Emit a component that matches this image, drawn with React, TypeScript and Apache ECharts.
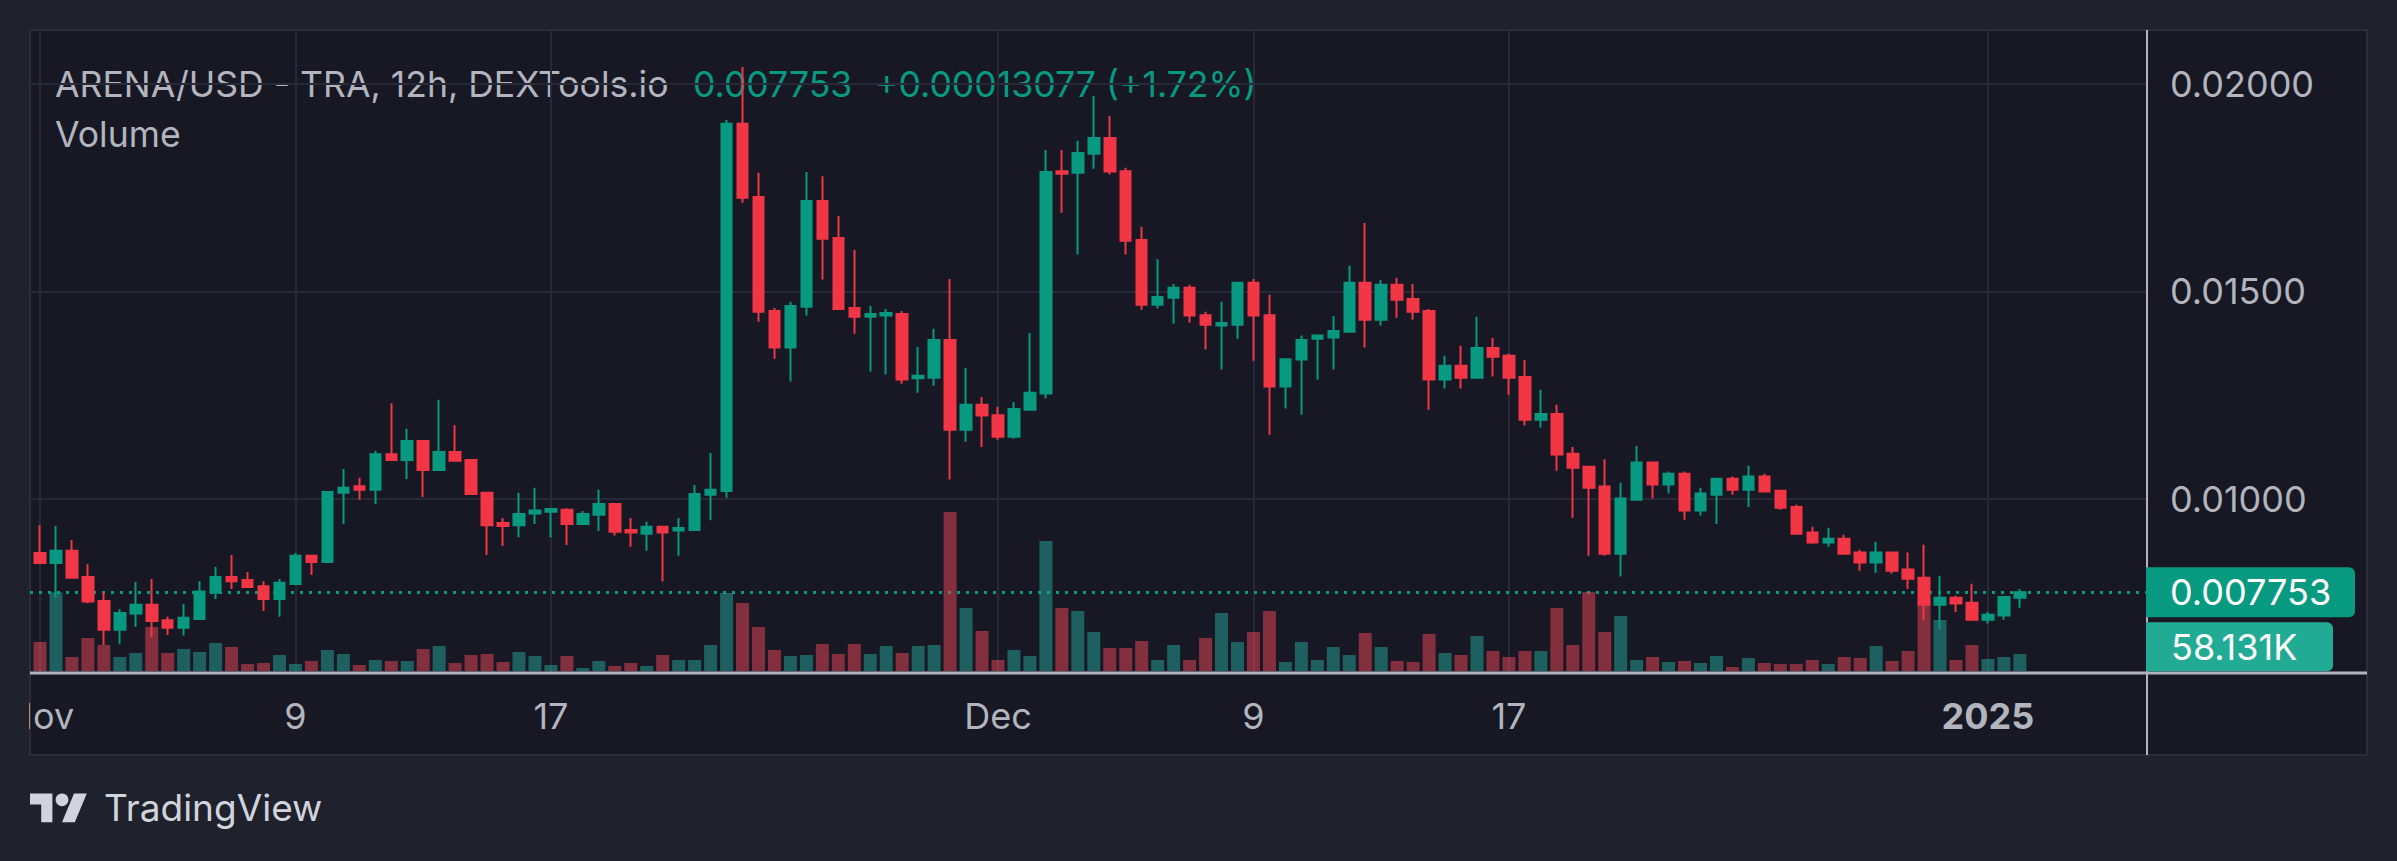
import React, { useEffect, useRef } from "react";
import * as echarts from "echarts";

// ---------- DATA (12h candles, Nov 1 2024 00:00 .. Jan 2 2025 00:00) ----------
const OPEN = [
  0.0087, 0.00846, 0.00875, 0.00812, 0.00754, 0.00685, 0.00724, 0.00745, 0.00708, 0.0069,
  0.00711, 0.00774, 0.00812, 0.00805, 0.0079, 0.00759, 0.00795, 0.00863, 0.00848, 0.01015,
  0.01031, 0.01022, 0.01108, 0.01094, 0.0114, 0.0107, 0.01113, 0.01094, 0.01015, 0.00942,
  0.00937, 0.00965, 0.00969, 0.00974, 0.0094, 0.00962, 0.00988, 0.00925, 0.00916, 0.00933,
  0.00924, 0.00925, 0.0101, 0.01019, 0.01904, 0.01728, 0.01453, 0.01365, 0.01463, 0.01718,
  0.01629, 0.0146, 0.01439, 0.01442, 0.01446, 0.01291, 0.01292, 0.01383, 0.01167, 0.01227,
  0.01202, 0.0115, 0.01215, 0.01254, 0.0179, 0.01786, 0.01832, 0.0187, 0.0179, 0.01624,
  0.01468, 0.01485, 0.01509, 0.01443, 0.01418, 0.0142, 0.01521, 0.01443, 0.01271, 0.01336,
  0.01386, 0.01389, 0.01403, 0.01521, 0.01432, 0.01516, 0.01482, 0.01453, 0.01288, 0.01321,
  0.01292, 0.01364, 0.01345, 0.01294, 0.01191, 0.01205, 0.01109, 0.01078, 0.0103, 0.00868,
  0.00998, 0.01088, 0.01035, 0.01061, 0.00972, 0.0101, 0.01049, 0.01022, 0.01054, 0.0102,
  0.00981, 0.00919, 0.00895, 0.00904, 0.00871, 0.00847, 0.00871, 0.0083, 0.0081, 0.00745,
  0.00762, 0.0075, 0.00709, 0.00719, 0.0076222,
];
const HIGH = [
  0.00937, 0.00935, 0.00901, 0.00843, 0.00775, 0.00735, 0.008, 0.00807, 0.00716, 0.00747,
  0.00802, 0.00836, 0.00865, 0.00824, 0.00802, 0.00807, 0.0087, 0.00863, 0.01017, 0.01072,
  0.01051, 0.01116, 0.01231, 0.01169, 0.0114, 0.01239, 0.01178, 0.01094, 0.01015, 0.00954,
  0.01015, 0.01027, 0.00978, 0.00978, 0.00971, 0.01022, 0.00988, 0.00954, 0.00945, 0.00935,
  0.00954, 0.01034, 0.01111, 0.01913, 0.02041, 0.01786, 0.0146, 0.01475, 0.01788, 0.01778,
  0.01682, 0.016, 0.01465, 0.01458, 0.01453, 0.01366, 0.0141, 0.0153, 0.01316, 0.01246,
  0.01222, 0.01234, 0.014, 0.01841, 0.01841, 0.01863, 0.01971, 0.01923, 0.01798, 0.01656,
  0.01578, 0.01518, 0.01516, 0.01451, 0.01475, 0.01523, 0.0153, 0.01492, 0.01337, 0.01394,
  0.01395, 0.01441, 0.01562, 0.01665, 0.01528, 0.01533, 0.01518, 0.01458, 0.01345, 0.01369,
  0.01439, 0.01388, 0.0135, 0.01335, 0.01263, 0.01227, 0.01125, 0.0108, 0.01096, 0.01039,
  0.01128, 0.01088, 0.01066, 0.01066, 0.01027, 0.01051, 0.01054, 0.0108, 0.01061, 0.0102,
  0.00986, 0.00933, 0.00931, 0.00914, 0.00878, 0.00897, 0.00873, 0.00871, 0.0089, 0.00815,
  0.00767, 0.00796, 0.00728, 0.00764, 0.00783,
];
const LOW = [
  0.00846, 0.00762, 0.0081, 0.00749, 0.00648, 0.00651, 0.00692, 0.00667, 0.00672, 0.00671,
  0.00709, 0.00759, 0.00783, 0.00788, 0.0073, 0.00716, 0.00795, 0.00817, 0.00848, 0.0094,
  0.00998, 0.00988, 0.01092, 0.01048, 0.01005, 0.01068, 0.01092, 0.0101, 0.00865, 0.00887,
  0.00908, 0.0094, 0.00908, 0.00889, 0.0094, 0.00923, 0.00912, 0.00885, 0.00875, 0.00801,
  0.00863, 0.00924, 0.00949, 0.01003, 0.01714, 0.01427, 0.01338, 0.01283, 0.01442, 0.01529,
  0.01456, 0.01398, 0.01307, 0.013, 0.01278, 0.01256, 0.01273, 0.01047, 0.01138, 0.01125,
  0.01143, 0.01145, 0.01215, 0.01242, 0.0169, 0.01589, 0.01796, 0.01782, 0.01589, 0.01456,
  0.01459, 0.01423, 0.01425, 0.0136, 0.01312, 0.01386, 0.01333, 0.01155, 0.01218, 0.01203,
  0.01288, 0.01312, 0.01403, 0.01365, 0.01418, 0.01437, 0.01432, 0.01215, 0.01266, 0.01266,
  0.01292, 0.01295, 0.01251, 0.01177, 0.01172, 0.01068, 0.00955, 0.00863, 0.00863, 0.00813,
  0.00998, 0.01001, 0.01013, 0.0095, 0.0096, 0.0094, 0.0101, 0.00981, 0.01018, 0.00974,
  0.00914, 0.00892, 0.00885, 0.00866, 0.00827, 0.00822, 0.0082, 0.00784, 0.00707, 0.00687,
  0.00728, 0.00707, 0.007, 0.00709, 0.00738,
];
const CLOSE = [
  0.00846, 0.00875, 0.0081, 0.00753, 0.00685, 0.00725, 0.00745, 0.00706, 0.0069, 0.00714,
  0.00777, 0.00812, 0.00802, 0.00788, 0.00759, 0.00798, 0.00863, 0.00848, 0.01017, 0.01027,
  0.01022, 0.01108, 0.01094, 0.0114, 0.0107, 0.01113, 0.01092, 0.01012, 0.00937, 0.00935,
  0.00964, 0.00972, 0.00976, 0.0094, 0.00964, 0.00988, 0.00921, 0.00919, 0.00933, 0.00919,
  0.0093, 0.01012, 0.01022, 0.01904, 0.01726, 0.01451, 0.01365, 0.01465, 0.01718, 0.01627,
  0.01458, 0.01439, 0.01446, 0.01448, 0.01288, 0.01297, 0.01383, 0.01167, 0.01227, 0.01201,
  0.0115, 0.01217, 0.01256, 0.01788, 0.01784, 0.01834, 0.0187, 0.01789, 0.01622, 0.01468,
  0.01487, 0.01509, 0.01442, 0.0142, 0.01424, 0.01521, 0.01442, 0.01271, 0.01337, 0.01383,
  0.01394, 0.01405, 0.01521, 0.01432, 0.01516, 0.0148, 0.01451, 0.01288, 0.01321, 0.01292,
  0.01364, 0.01343, 0.01292, 0.01191, 0.01205, 0.01107, 0.01075, 0.01027, 0.00868, 0.01001,
  0.01088, 0.01035, 0.01061, 0.00972, 0.01013, 0.01049, 0.01022, 0.01054, 0.01018, 0.00979,
  0.00916, 0.00895, 0.00904, 0.00868, 0.00847, 0.00871, 0.00827, 0.00808, 0.00745, 0.00762,
  0.00748, 0.00709, 0.00721, 0.00764, 0.007753,
];
const VOLUME = [
  99200, 269000, 47900, 112900, 88900, 47900, 61600, 150500, 61600, 75200,
  65000, 95800, 82100, 23900, 27400, 54700, 23900, 34200, 71800, 58100,
  20500, 37600, 34200, 34200, 75200, 85500, 27400, 54700, 58100, 30800,
  65000, 51300, 20500, 51300, 10300, 34200, 17100, 27400, 17100, 54700,
  37600, 37600, 88900, 266800, 232600, 150500, 71800, 51300, 54700, 92300,
  58100, 92300, 58100, 85500, 61600, 85500, 88900, 543800, 215500, 136800,
  37600, 71800, 51300, 444600, 215500, 205200, 133400, 78700, 78700, 102600,
  37600, 88900, 37600, 112900, 198400, 99200, 133400, 205200, 30800, 99200,
  37600, 82100, 54700, 130000, 82100, 34200, 30800, 126500, 61600, 54700,
  119700, 68400, 47900, 68400, 68400, 215500, 88900, 270200, 133400, 188100,
  37600, 47900, 30800, 34200, 27400, 51300, 13700, 44500, 27400, 23900,
  23900, 37600, 23900, 47900, 44500, 85500, 34200, 68400, 239400, 174400,
  37600, 88900, 41000, 47900, 58131,
];

const PRICE_TICKS = [0.01, 0.015, 0.02];
const TIME_TICKS = [0, 16, 32, 60, 76, 92, 122];
const TIME_LABELS = ["Nov", "9", "17", "Dec", "9", "17", "2025"];
const TIME_BOLD = [false, false, false, false, false, false, true];

const TITLE = "ARENA/USD - TRA, 12h, DEXTools.io";
const LAST_PRICE = 0.007753;
const CHANGE = 0.00013077;
const CHANGE_PCT = 1.72;
const LAST_VOLUME = 58131;

// ---------- STYLE / LAYOUT ----------
const W = 2397;
const H = 861;
const OUTER = "#1f222c";
const INNER = "#171824";
const BORDER = "#2b2e3a";
const GRID = "#272a36";
const SEP = "#b2b5be";
const TXT = "#b2b5be";
const UP = "#089981";
const DOWN = "#f23645";
const VOL_UP = "rgba(38,166,154,0.5)";
const VOL_DOWN = "rgba(242,70,85,0.5)";
const FONT = 'Inter, "Noto Sans", Roboto, sans-serif';

const PLOT_LEFT = 30;
const PLOT_RIGHT = 2146;
const PRICE_TOP = 30;
const PRICE_BOTTOM = 673;
const X_MIN = -0.6263;
const X_MAX = 131.9;
const Y_MIN = 0.0058072;
const Y_MAX = 0.0213012;
const VOL_TOP = 471;
const VOL_BOTTOM = 671;
const VOL_MAX = 684000;

const TV_LOGO = "M14 22H7V11H0V4h14v18zM28 22h-8l7.5-18h8L28 22z";

export default function App() {
  const ref = useRef<HTMLDivElement>(null);

  useEffect(() => {
    if (!ref.current) return;
    try {
      echarts.graphic.registerShape("tvlogo", echarts.graphic.extendPath(TV_LOGO, {}) as any);
    } catch (e) {
      /* already registered */
    }
    const chart = echarts.init(ref.current, null, { renderer: "svg", width: W, height: H });

    const candleData = OPEN.map((o, i) => [i, o, CLOSE[i], LOW[i], HIGH[i]]);
    const volData = VOLUME.map((v, i) => ({
      value: [i, v],
      itemStyle: { color: CLOSE[i] >= OPEN[i] ? VOL_UP : VOL_DOWN },
    }));

    const plotW = PLOT_RIGHT - PLOT_LEFT;
    const py = PRICE_TOP + ((Y_MAX - LAST_PRICE) / (Y_MAX - Y_MIN)) * (PRICE_BOTTOM - PRICE_TOP);

    const option: any = {
      animation: false,
      backgroundColor: OUTER,
      grid: [
        { left: PLOT_LEFT, top: PRICE_TOP, width: plotW, height: PRICE_BOTTOM - PRICE_TOP },
        { left: PLOT_LEFT, top: VOL_TOP, width: plotW, height: VOL_BOTTOM - VOL_TOP },
      ],
      xAxis: [
        { type: "value", gridIndex: 0, min: X_MIN, max: X_MAX, show: false },
        {
          type: "value",
          gridIndex: 1,
          min: X_MIN,
          max: X_MAX,
          axisLine: { show: false },
          axisTick: { show: false },
          splitLine: { show: false },
          axisLabel: {
            customValues: TIME_TICKS,
            margin: 45,
            verticalAlign: "middle",
            color: TXT,
            fontSize: 36,
            fontFamily: FONT,
            formatter: (v: number) => {
              const k = TIME_TICKS.indexOf(Math.round(v));
              if (k < 0) return "";
              return TIME_BOLD[k] ? `{b|${TIME_LABELS[k]}}` : TIME_LABELS[k];
            },
            rich: {
              b: { fontWeight: "bold", fontSize: 36, fontFamily: FONT, color: TXT },
            },
          },
        },
      ],
      yAxis: [
        {
          type: "value",
          gridIndex: 0,
          position: "right",
          min: Y_MIN,
          max: Y_MAX,
          axisLine: { show: false },
          axisTick: { show: false },
          splitLine: { show: false },
          axisLabel: {
            customValues: PRICE_TICKS,
            margin: 24,
            color: TXT,
            fontSize: 36,
            fontFamily: FONT,
            formatter: (v: number) => v.toFixed(5),
          },
        },
        { type: "value", gridIndex: 1, min: 0, max: VOL_MAX, show: false },
      ],
      series: [
        {
          type: "bar",
          xAxisIndex: 1,
          yAxisIndex: 1,
          data: volData,
          barWidth: 13,
          silent: true,
          z: 2,
        },
        {
          type: "candlestick",
          xAxisIndex: 0,
          yAxisIndex: 0,
          data: candleData,
          encode: { x: 0, y: [1, 2, 3, 4] },
          barWidth: 11,
          silent: true,
          z: 3,
          itemStyle: {
            color: UP,
            color0: DOWN,
            borderColor: UP,
            borderColor0: DOWN,
            borderWidth: 2,
          },
          markLine: {
            silent: true,
            z: 1,
            precision: 8,
            symbol: ["none", "none"],
            label: { show: false },
            lineStyle: { color: GRID, width: 2, type: "solid" },
            data: [
              ...PRICE_TICKS.map((v) => ({ yAxis: v })),
              ...TIME_TICKS.map((v) => ({ xAxis: v })),
              { yAxis: LAST_PRICE, lineStyle: { color: UP, width: 3, type: [3, 6] } },
            ],
          },
        },
      ],
      graphic: [
        {
          type: "rect",
          z: -10,
          shape: { x: 30, y: 30, width: 2337, height: 725 },
          style: { fill: INNER, stroke: BORDER, lineWidth: 2 },
        },
        {
          type: "text",
          z: -5,
          x: 55,
          y: 84,
          style: { text: TITLE, fill: TXT, fontSize: 35.6, fontFamily: FONT, verticalAlign: "middle" },
        },
        {
          type: "text",
          z: -5,
          x: 693,
          y: 84,
          style: {
            text: LAST_PRICE.toFixed(6),
            fill: UP,
            fontSize: 35.6,
            fontFamily: FONT,
            verticalAlign: "middle",
          },
        },
        {
          type: "text",
          z: -5,
          x: 875,
          y: 84,
          style: {
            text: `+${CHANGE.toFixed(8)} (+${CHANGE_PCT.toFixed(2)}%)`,
            fill: UP,
            fontSize: 35.6,
            fontFamily: FONT,
            verticalAlign: "middle",
          },
        },
        {
          type: "text",
          z: -5,
          x: 55,
          y: 134,
          style: { text: "Volume", fill: TXT, fontSize: 35.6, fontFamily: FONT, verticalAlign: "middle" },
        },
        {
          type: "line",
          z: 50,
          shape: { x1: 30, y1: 673, x2: 2367, y2: 673 },
          style: { stroke: SEP, lineWidth: 3 },
        },
        {
          type: "line",
          z: 50,
          shape: { x1: 2147, y1: 30, x2: 2147, y2: 755 },
          style: { stroke: SEP, lineWidth: 2 },
        },
        {
          type: "rect",
          z: 60,
          shape: { x: 2146, y: py - 25, width: 209, height: 50, r: [0, 6, 6, 0] },
          style: { fill: UP },
        },
        {
          type: "text",
          z: 61,
          x: 2170,
          y: py,
          style: {
            text: LAST_PRICE.toFixed(6),
            fill: "#ffffff",
            fontSize: 36,
            fontFamily: FONT,
            verticalAlign: "middle",
          },
        },
        {
          type: "rect",
          z: 60,
          shape: { x: 2146, y: py + 30, width: 187, height: 49, r: [0, 6, 6, 0] },
          style: { fill: "#22ab94" },
        },
        {
          type: "text",
          z: 61,
          x: 2171,
          y: py + 54.5,
          style: {
            text: (LAST_VOLUME / 1000).toFixed(3) + "K",
            fill: "#ffffff",
            fontSize: 36,
            fontFamily: FONT,
            verticalAlign: "middle",
          },
        },
        {
          type: "rect",
          z: 100,
          shape: { x: 0, y: 0, width: 29, height: H },
          style: { fill: OUTER },
        },
        {
          type: "tvlogo",
          z: 10,
          x: 30,
          y: 787,
          scaleX: 1.6,
          scaleY: 1.6,
          style: { fill: "#d1d4dc" },
        },
        {
          type: "circle",
          z: 10,
          shape: { cx: 30 + 20 * 1.6, cy: 787 + 8 * 1.6, r: 4 * 1.6 },
          style: { fill: "#d1d4dc" },
        },
        {
          type: "text",
          z: 10,
          x: 104,
          y: 807,
          style: {
            text: "TradingView",
            fill: "#d1d4dc",
            fontSize: 37,
            fontFamily: FONT,
            verticalAlign: "middle",
          },
        },
      ],
    };

    chart.setOption(option);
    return () => chart.dispose();
  }, []);

  return (
    <div
      ref={ref}
      style={{ position: "fixed", left: 0, top: 0, width: W, height: H, background: OUTER }}
    />
  );
}
